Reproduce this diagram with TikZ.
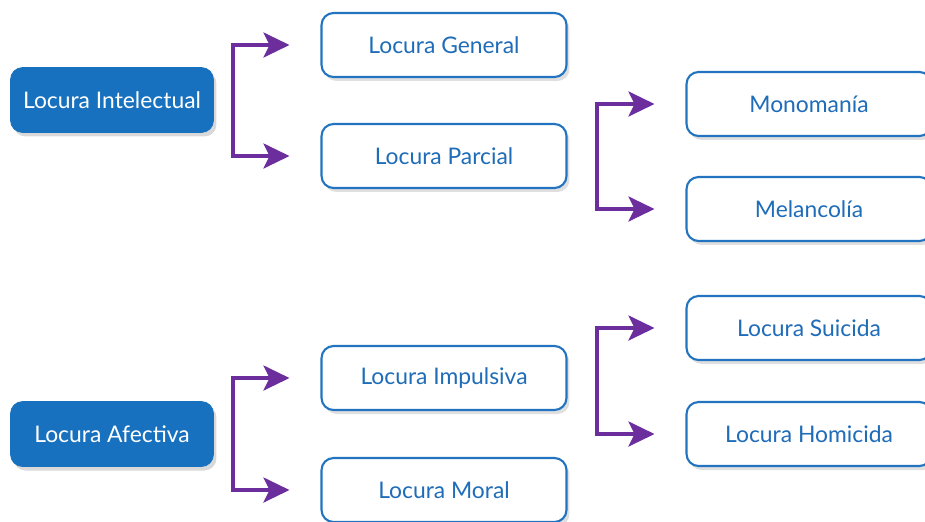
\documentclass[tikz,border=0pt]{standalone}
\usepackage{fontspec}
\setmainfont{Lato}
\usepackage{tikz}
\usetikzlibrary{arrows.meta,positioning,shadows,calc}
\definecolor{boxblue}{HTML}{1771BE}
\definecolor{lineblue}{HTML}{2274C0}
\definecolor{textblue}{HTML}{1F6CB8}
\definecolor{arrowpurple}{HTML}{6B2E9C}

\begin{document}
\begin{tikzpicture}[x=0.02cm,y=-0.02cm,
  root/.style={draw=boxblue,fill=boxblue,rounded corners=0.24cm,minimum width=4.06cm,
    minimum height=1.3cm,align=center,text=white,font=\fontsize{13}{15}\selectfont,
    drop shadow={opacity=0.3,shadow xshift=0.06cm,shadow yshift=-0.08cm}},
  leaf/.style={draw=lineblue,line width=1.2pt,fill=white,rounded corners=0.24cm,
    minimum width=4.9cm,minimum height=1.28cm,align=center,text=textblue,
    font=\fontsize{13}{15}\selectfont,
    drop shadow={opacity=0.25,shadow xshift=0.06cm,shadow yshift=-0.08cm}},
  bracket/.style={{Stealth[length=0.52cm,width=0.5cm,inset=0.12cm]}-{Stealth[length=0.52cm,width=0.5cm,inset=0.12cm]},
    draw=arrowpurple,line width=1.8pt,shorten <=0.62cm,shorten >=0.62cm}
]
\path[use as bounding box,clip] (0,0) rectangle (925,521);

\node[root] (intel) at (112,100) {Locura Intelectual};
\node[root] (afect) at (112,434) {Locura Afectiva};

\node[leaf] (gen) at (444,45) {Locura General};
\node[leaf] (parc) at (444,156) {Locura Parcial};
\node[leaf] (impul) at (444,378) {Locura Impulsiva};
\node[leaf] (moral) at (444,490) {Locura Moral};

\node[leaf] (mono) at (809,104) {Monomanía};
\node[leaf] (melan) at (809,209) {Melancolía};
\node[leaf] (suic) at (809,328) {Locura Suicida};
\node[leaf] (homic) at (809,434) {Locura Homicida};

% bracket columns
\coordinate (colA) at (233,0);
\coordinate (colB) at (597,0);

\draw[bracket] (gen.west) -- (gen.west -| colA) -- (parc.west -| colA) -- (parc.west);
\draw[bracket] (impul.west) -- (impul.west -| colA) -- (moral.west -| colA) -- (moral.west);
\draw[bracket] (mono.west) -- (mono.west -| colB) -- (melan.west -| colB) -- (melan.west);
\draw[bracket] (suic.west) -- (suic.west -| colB) -- (homic.west -| colB) -- (homic.west);
\end{tikzpicture}
\end{document}
